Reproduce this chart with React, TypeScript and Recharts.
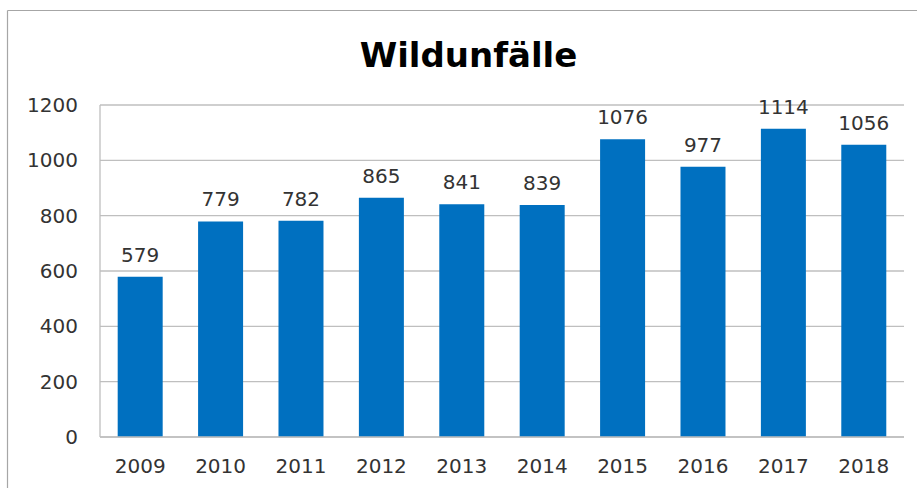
import React from "react";
import { BarChart, Bar, XAxis, YAxis, CartesianGrid, LabelList } from "recharts";

const years = ["2009", "2010", "2011", "2012", "2013", "2014", "2015", "2016", "2017", "2018"];
const accidents = [579, 779, 782, 865, 841, 839, 1076, 977, 1114, 1056];
const yTicks = [0, 200, 400, 600, 800, 1000, 1200];
const title = "Wildunfälle";

const data = years.map((y, i) => ({ year: y, value: accidents[i] }));

const FONT = "'DejaVu Sans', sans-serif";

export default function App() {
  return (
    <div style={{ position: "absolute", left: 0, top: 0, width: 917, height: 488, background: "#fff", overflow: "hidden" }}>
      <BarChart
        width={917}
        height={488}
        data={data}
        margin={{ top: 105, right: 13, bottom: 0, left: 0 }}
        barCategoryGap="22%"
      >
        <CartesianGrid vertical={false} stroke="#BFBFBF" strokeWidth={1.3} />
        <XAxis
          dataKey="year"
          height={51}
          axisLine={{ stroke: "#BFBFBF", strokeWidth: 1.3 }}
          tickLine={false}
          tickSize={6}
          tickMargin={16}
          interval={0}
          tick={{ fill: "#333333", fontSize: 20, fontFamily: FONT }}
        />
        <YAxis
          width={100}
          domain={[0, 1200]}
          ticks={yTicks}
          interval={0}
          axisLine={{ stroke: "#BFBFBF", strokeWidth: 1.3 }}
          tickLine={false}
          tickSize={6}
          tickMargin={16}
          tick={{ fill: "#333333", fontSize: 20, fontFamily: FONT }}
        />
        <Bar dataKey="value" fill="#0070C0" isAnimationActive={false}>
          <LabelList
            dataKey="value"
            position="top"
            offset={15}
            style={{ fill: "#333333", fontSize: 20, fontFamily: FONT }}
          />
        </Bar>
      </BarChart>
      <svg width={917} height={488} style={{ position: "absolute", left: 0, top: 0, pointerEvents: "none" }}>
        <line x1={7.5} y1={10.5} x2={917} y2={10.5} stroke="#A6A6A6" strokeWidth={1.2} />
        <line x1={7.5} y1={10.5} x2={7.5} y2={488} stroke="#A6A6A6" strokeWidth={1.2} />
        <text x={468.5} y={66.5} textAnchor="middle" fontFamily={FONT} fontWeight="bold" fontSize={34} fill="#000">
          {title}
        </text>
      </svg>
    </div>
  );
}
